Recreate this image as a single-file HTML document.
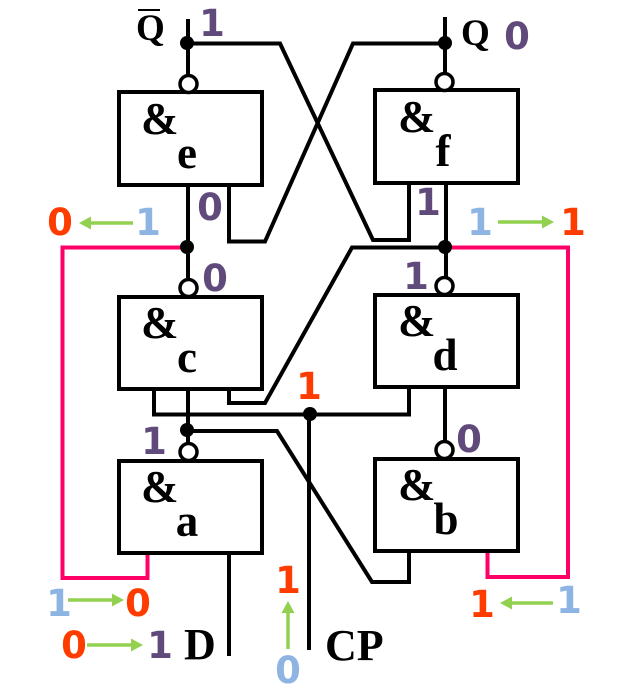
<!DOCTYPE html>
<html>
<head>
<meta charset="utf-8">
<style>
html,body{margin:0;padding:0;background:#fff;}
svg{display:block;}
.s{font-family:"Liberation Serif",serif;font-weight:bold;fill:#000;}
.d{font-family:"DejaVu Sans",sans-serif;font-weight:bold;font-size:37px;text-anchor:middle;}
.p{fill:#604A7B;}.r{fill:#FF3C00;}.b{fill:#8EB4E3;}
</style>
</head>
<body>
<svg width="629" height="694" viewBox="0 0 629 694" xmlns="http://www.w3.org/2000/svg">
<g fill="none" stroke="#FF0066" stroke-width="4">
<path d="M187 247.500H62.500V578H147.500V554"/>
<path d="M445 247.500H568V577H487.500V552"/>
</g>
<g fill="none" stroke="#000" stroke-width="4">
<rect x="119" y="92" width="143" height="93"/>
<rect x="119" y="297" width="143" height="92"/>
<rect x="119" y="461" width="143" height="92"/>
<rect x="375" y="90" width="143" height="93"/>
<rect x="375" y="295" width="143" height="92"/>
<rect x="375" y="459" width="143" height="92"/>
<path d="M188 19V76"/>
<path d="M187 43.500H280L373 240H409V184"/>
<path d="M229 185V241.500H265L353 43.500H445"/>
<path d="M445 17V74"/>
<path d="M188 185V279"/>
<path d="M446 183V278"/>
<path d="M445 247.500H352L265 403H229V389"/>
<path d="M188 389V444"/>
<path d="M187 431H277L372 582H409V552"/>
<path d="M154 389V414.500H409V387"/>
<path d="M309 414V650"/>
<path d="M445 387V441"/>
<path d="M229 553V656"/>
</g>
<g fill="#000">
<circle cx="187" cy="43" r="7"/>
<circle cx="445" cy="43" r="7"/>
<circle cx="187" cy="247" r="7"/>
<circle cx="445" cy="247" r="7"/>
<circle cx="187" cy="430" r="7"/>
<circle cx="310" cy="414" r="7"/>
</g>
<g fill="#fff" stroke="#000" stroke-width="3.500">
<circle cx="188.500" cy="84" r="8.500"/>
<circle cx="188.500" cy="288" r="8.500"/>
<circle cx="188.500" cy="452" r="8.500"/>
<circle cx="444.500" cy="82" r="8.500"/>
<circle cx="444.500" cy="286" r="8.500"/>
<circle cx="444.500" cy="450" r="8.500"/>
</g>
<g fill="none" stroke="#92D050" stroke-width="3.500">
<path d="M133 223H88"/>
<path d="M498 222H544"/>
<path d="M68 600H114"/>
<path d="M87 645H133"/>
<path d="M288 649V611"/>
<path d="M553 603H510"/>
</g>
<g fill="#92D050">
<path d="M79 223L91 216.500V229.500Z"/>
<path d="M554 222L542 215.500V228.500Z"/>
<path d="M124 600L112 593.500V606.500Z"/>
<path d="M143 645L131 638.500V651.500Z"/>
<path d="M288 601L281.500 613H294.500Z"/>
<path d="M500 603L512 596.500V609.500Z"/>
</g>
<g class="s" font-size="45">
<text x="141" y="134">&amp;</text>
<text x="141" y="338">&amp;</text>
<text x="141" y="502">&amp;</text>
<text x="398" y="132">&amp;</text>
<text x="398" y="336">&amp;</text>
<text x="398" y="500">&amp;</text>
<g text-anchor="middle">
<text x="187" y="168">e</text>
<text x="187" y="372">c</text>
<text x="187" y="536">a</text>
<text x="443" y="166">f</text>
<text x="445" y="370">d</text>
<text x="446" y="534">b</text>
</g>
</g>
<g class="s" font-size="37">
<text x="136" y="40">Q</text>
<text x="461" y="45">Q</text>
</g>
<rect x="138" y="9" width="22" height="2" fill="#000"/>
<g class="s" font-size="44">
<text x="184" y="659">D</text>
<text x="325" y="660">CP</text>
</g>
<g class="d">
<text class="p" x="212" y="36">1</text>
<text class="p" x="517" y="49">0</text>
<text class="p" x="210" y="220">0</text>
<text class="r" x="60" y="235">0</text>
<text class="b" x="148" y="235">1</text>
<text class="p" x="215" y="291">0</text>
<text class="p" x="428" y="215">1</text>
<text class="b" x="480" y="235">1</text>
<text class="r" x="573" y="235">1</text>
<text class="p" x="416" y="289">1</text>
<text class="r" x="309" y="399">1</text>
<text class="p" x="154" y="454">1</text>
<text class="p" x="469" y="452">0</text>
<text class="b" x="59" y="616">1</text>
<text class="r" x="138" y="616">0</text>
<text class="r" x="74" y="658">0</text>
<text class="p" x="160" y="658">1</text>
<text class="r" x="288" y="593">1</text>
<text class="b" x="288" y="683">0</text>
<text class="r" x="482" y="617">1</text>
<text class="b" x="569" y="613">1</text>
</g>
</svg>
</body>
</html>
